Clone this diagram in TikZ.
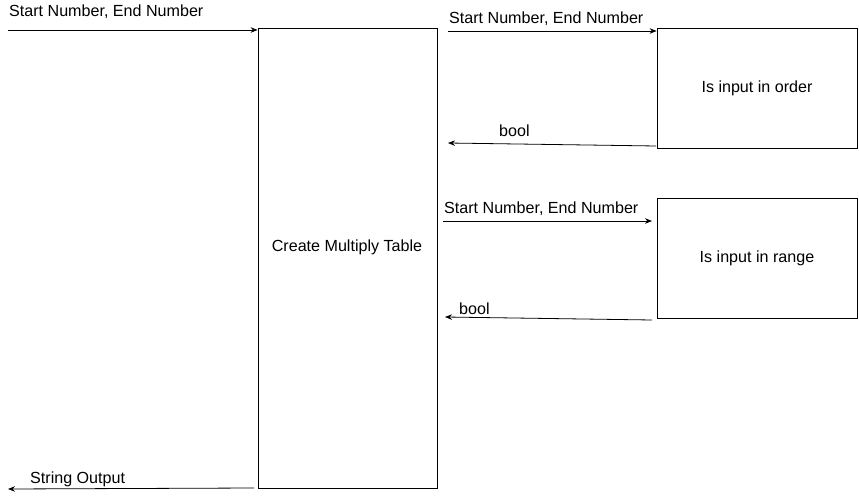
\documentclass[tikz,border=0pt]{standalone}
\usepackage{fontspec}
\setmainfont{Liberation Sans}
\usetikzlibrary{arrows.meta}
\begin{document}
\begin{tikzpicture}[x=1pt,y=-1pt,
  every node/.style={font=\fontsize{16.1}{19}\selectfont, inner sep=0pt},
  procbox/.style={draw, line width=0.8pt, fill=white},
  flow/.style={draw, line width=0.8pt, -{Stealth[length=7pt,width=5.5pt]}},
  lbl/.style={anchor=west}]
\useasboundingbox[fill=white] (0,0) rectangle (859,497);
% boxes
\node[procbox, minimum width=179pt, minimum height=460pt] (main) at (347.5,258) {};
\node (maintext) at (347,247) {Create Multiply Table};
\node[procbox, minimum width=200pt, minimum height=120pt] (order) at (757,88) {Is input in order};
\node[procbox, minimum width=200pt, minimum height=120pt] (range) at (757,258) {Is input in range};
% free ends
\coordinate (inS) at (8,30);
\coordinate (oS) at (448,31);
\coordinate (obE) at (448,143);
\coordinate (obS) at (656,146);
\coordinate (rS) at (443,221);
\coordinate (rE) at (652,221);
\coordinate (rbS) at (652,320);
\coordinate (rbE) at (445,317);
\coordinate (outE) at (8,489);
\coordinate (outS) at (254,488);
% connectors
\draw[flow] (inS) -- (main.west |- inS);
\draw[flow] (oS) -- (order.west |- oS);
\draw[flow] (obS) -- (obE);
\draw[flow] (rS) -- (rE);
\draw[flow] (rbS) -- (rbE);
\draw[flow] (outS) -- (outE);
% labels
\node[lbl] (l1) at (9,12) {Start Number, End Number};
\node[lbl] (l2) at (449,19) {Start Number, End Number};
\node[lbl] (l3) at (499,131) {bool};
\node[lbl] (l4) at (444,209) {Start Number, End Number};
\node[lbl] (l5) at (459,309) {bool};
\node[lbl] (l6) at (30,479) {String Output};
\end{tikzpicture}
\end{document}
